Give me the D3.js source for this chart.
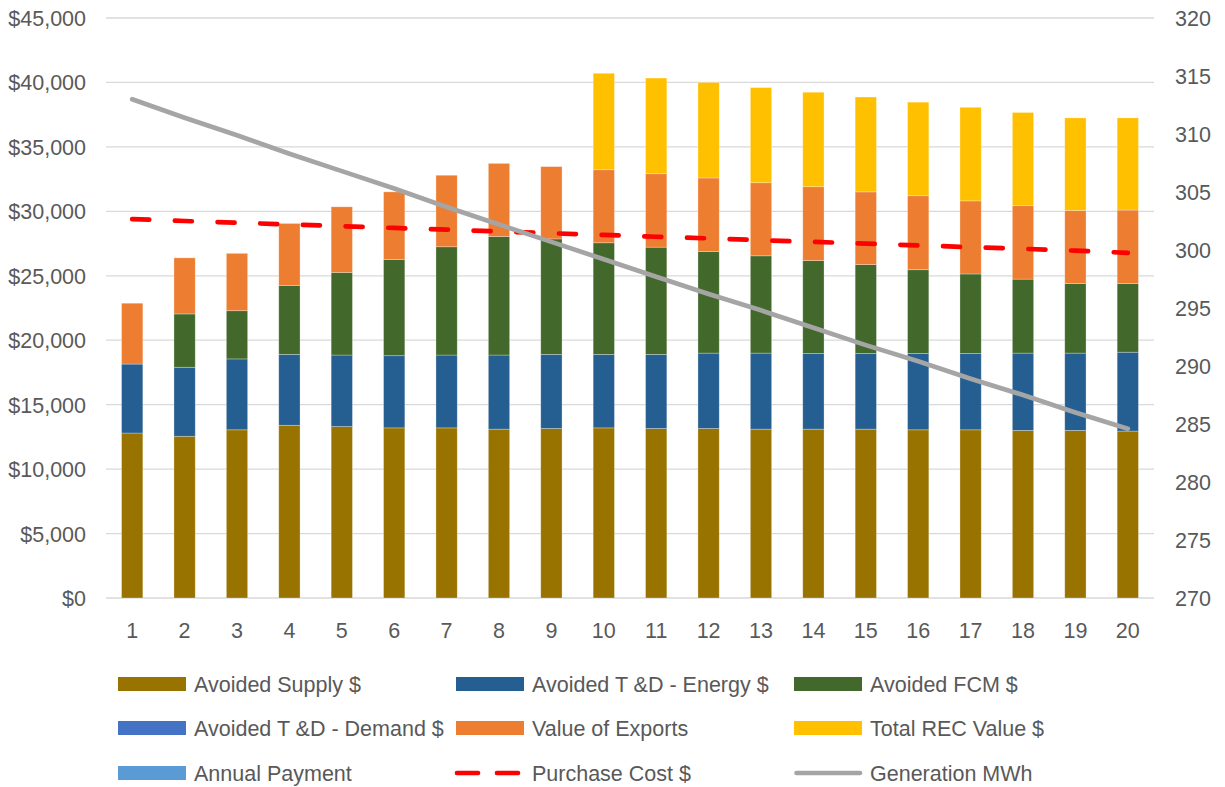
<!DOCTYPE html>
<html><head><meta charset="utf-8">
<script src="https://cdn.jsdelivr.net/npm/d3@7"></script>
<style>
html,body{margin:0;padding:0;background:#fff;}
svg text{font-family:"Liberation Sans",Arial,sans-serif;fill:#595959;}
</style></head>
<body>
<svg id="chart" width="1225" height="787"></svg>
<script>
const years = [1,2,3,4,5,6,7,8,9,10,11,12,13,14,15,16,17,18,19,20];
const avoidedSupply = [12800,12550,13050,13400,13300,13200,13200,13100,13150,13200,13150,13150,13100,13100,13100,13050,13050,13000,13000,12950];
const avoidedTDEnergy = [5350,5350,5500,5500,5550,5600,5650,5750,5750,5700,5750,5850,5900,5870,5870,5920,5920,6000,6000,6120];
const avoidedFCM = [0,4140,3740,5350,6410,7470,8400,9200,8960,8660,8320,7880,7550,7210,6900,6500,6170,5740,5400,5330];
const avoidedTDDemand = [0,0,0,0,0,0,0,0,0,0,0,0,0,0,0,0,0,0,0,0];
const valueOfExports = [4720,4350,4450,4810,5090,5240,5550,5670,5610,5670,5700,5710,5670,5730,5640,5740,5670,5700,5670,5700];
const totalREC = [0,0,0,0,0,0,0,0,0,7480,7420,7410,7380,7330,7360,7260,7260,7230,7180,7150];
const annualPayment = [0,0,0,0,0,0,0,0,0,0,0,0,0,0,0,0,0,0,0,0];
const purchaseCost = [29400,29250,29120,28980,28850,28710,28580,28440,28300,28170,28030,27900,27760,27630,27490,27360,27220,27090,26950,26780];
const generationMWh = [313.0,311.4,309.9,308.3,306.8,305.3,303.7,302.2,300.7,299.2,297.7,296.2,294.8,293.3,291.8,290.4,288.9,287.5,286.0,284.6];
const leftTicks = [0,5000,10000,15000,20000,25000,30000,35000,40000,45000];
const rightTicks = [270,275,280,285,290,295,300,305,310,315,320];

const barSeries = [
  {name:"Avoided Supply $", values:avoidedSupply, color:"#987300"},
  {name:"Avoided T &D - Energy $", values:avoidedTDEnergy, color:"#255E91"},
  {name:"Avoided FCM $", values:avoidedFCM, color:"#43682B"},
  {name:"Avoided T &D - Demand $", values:avoidedTDDemand, color:"#4472C4"},
  {name:"Value of Exports", values:valueOfExports, color:"#ED7D31"},
  {name:"Total REC Value $", values:totalREC, color:"#FFC000"},
  {name:"Annual Payment", values:annualPayment, color:"#5B9BD5"}
];

const svg = d3.select("#chart");
const plot = {left:106, right:1154, top:18, bottom:598};

const x = d3.scaleBand().domain(years).range([plot.left, plot.right]).paddingInner(0.594).paddingOuter(0.297);
const y = d3.scaleLinear().domain([0,45000]).range([plot.bottom, plot.top]);
const y2 = d3.scaleLinear().domain([270,320]).range([plot.bottom, plot.top]);

// gridlines
svg.append("g").selectAll("line").data(leftTicks).join("line")
  .attr("x1", plot.left).attr("x2", plot.right)
  .attr("y1", d=>y(d)).attr("y2", d=>y(d))
  .attr("stroke", "#D9D9D9").attr("stroke-width", 1.3);

// left axis
const yAxis = d3.axisLeft(y).tickValues(leftTicks).tickSize(0).tickPadding(0)
  .tickFormat(d => "$" + d3.format(",")(d));
const gy = svg.append("g").attr("transform", `translate(86,0)`).call(yAxis);
gy.select(".domain").remove();
gy.selectAll("text").attr("font-size", 21.5).attr("dy", "0.35em").style("font-family", "'Liberation Sans',Arial,sans-serif").attr("fill", "#595959");

// right axis
const y2Axis = d3.axisRight(y2).tickValues(rightTicks).tickSize(0).tickPadding(0);
const gy2 = svg.append("g").attr("transform", `translate(1175,0)`).call(y2Axis);
gy2.select(".domain").remove();
gy2.selectAll("text").attr("font-size", 21.5).attr("dy", "0.35em").style("font-family", "'Liberation Sans',Arial,sans-serif").attr("fill", "#595959");

// bottom axis
const xAxis = d3.axisBottom(x).tickSize(0).tickPadding(0);
const gx = svg.append("g").attr("transform", `translate(0,${plot.bottom})`).call(xAxis);
gx.select(".domain").remove();
gx.selectAll("text").attr("font-size", 21.5).attr("y", 32).attr("dy", "0.35em").style("font-family", "'Liberation Sans',Arial,sans-serif").attr("fill", "#595959");

// stacked bars
const table = years.map((yr,i) => {
  const row = {year: yr};
  barSeries.forEach(s => row[s.name] = s.values[i]);
  return row;
});
const stack = d3.stack().keys(barSeries.map(s=>s.name));
const stacked = stack(table);
const gb = svg.append("g");
stacked.forEach((layer, li) => {
  gb.append("g").attr("fill", barSeries[li].color)
    .selectAll("rect").data(layer.filter(d => d[1] - d[0] > 0)).join("rect")
    .attr("x", d => x(d.data.year))
    .attr("width", x.bandwidth())
    .attr("y", d => y(d[1]))
    .attr("height", d => y(d[0]) - y(d[1]))
    .attr("stroke", "rgba(255,255,255,0.35)").attr("stroke-width", 0.8);
});

// purchase cost dashed line
const cx = d => x(d) + x.bandwidth()/2;
svg.append("path").datum(purchaseCost)
  .attr("d", d3.line().x((d,i)=>cx(years[i])).y(d=>y(d)))
  .attr("fill","none").attr("stroke","#FF0000").attr("stroke-width",4.7)
  .attr("stroke-linecap","round").attr("stroke-dasharray","17,25.7");

// generation line
svg.append("path").datum(generationMWh)
  .attr("d", d3.line().x((d,i)=>cx(years[i])).y(d=>y2(d)))
  .attr("fill","none").attr("stroke","#A5A5A5").attr("stroke-width",4.7)
  .attr("stroke-linecap","round");

// legend
const legendItems = [
  {name:barSeries[0].name, type:"rect", color:barSeries[0].color},
  {name:barSeries[1].name, type:"rect", color:barSeries[1].color},
  {name:barSeries[2].name, type:"rect", color:barSeries[2].color},
  {name:barSeries[3].name, type:"rect", color:barSeries[3].color},
  {name:barSeries[4].name, type:"rect", color:barSeries[4].color},
  {name:barSeries[5].name, type:"rect", color:barSeries[5].color},
  {name:barSeries[6].name, type:"rect", color:barSeries[6].color},
  {name:"Purchase Cost $", type:"dash", color:"#FF0000"},
  {name:"Generation MWh", type:"line", color:"#A5A5A5"}
];
const colX = [118, 456, 794];
const rowY = [684, 728, 773];
const lg = svg.append("g");
legendItems.forEach((it, i) => {
  const gx0 = colX[i % 3], gy0 = rowY[Math.floor(i / 3)];
  const g = lg.append("g");
  if (it.type === "rect") {
    g.append("rect").attr("x", gx0).attr("y", gy0 - 7).attr("width", 68).attr("height", 14).attr("fill", it.color);
  } else if (it.type === "dash") {
    g.append("line").attr("x1", gx0 + 1).attr("x2", gx0 + 62).attr("y1", gy0).attr("y2", gy0)
      .attr("stroke", it.color).attr("stroke-width", 4.7).attr("stroke-linecap", "round").attr("stroke-dasharray", "21,19");
  } else {
    g.append("line").attr("x1", gx0 + 2.5).attr("x2", gx0 + 66).attr("y1", gy0).attr("y2", gy0)
      .attr("stroke", it.color).attr("stroke-width", 4.7).attr("stroke-linecap", "round");
  }
  g.append("text").attr("x", gx0 + 76).attr("y", gy0).attr("dy", "0.35em")
    .attr("font-size", 21.5).text(it.name);
});
</script>
</body></html>
